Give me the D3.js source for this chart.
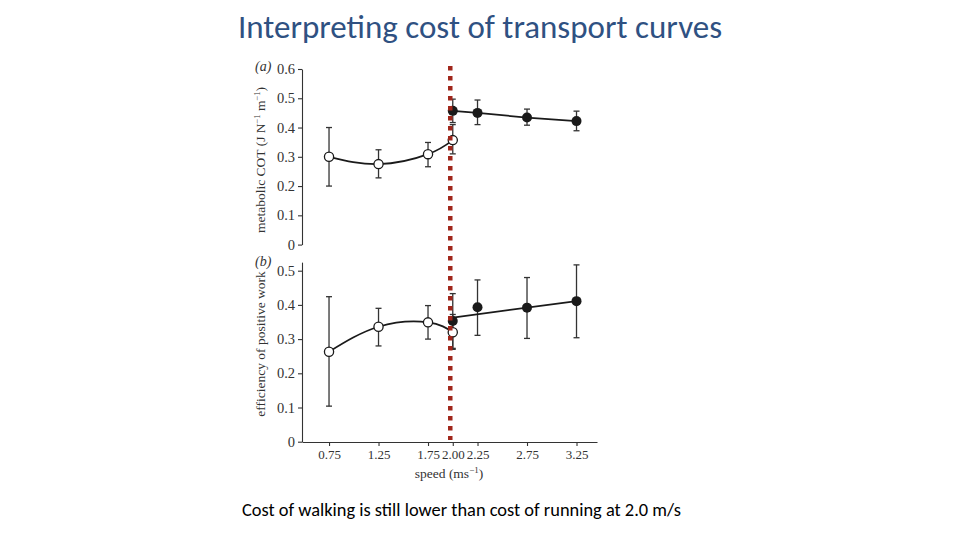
<!DOCTYPE html>
<html>
<head>
<meta charset="utf-8">
<script src="https://cdn.jsdelivr.net/npm/d3@7"></script>
<style>
  body { margin: 0; background: #fff; }
  svg { display: block; }
</style>
</head>
<body>
<script>
// speeds (m/s)
const walkSpeeds = [0.75, 1.25, 1.75, 2.00];
const runSpeeds = [2.00, 2.25, 2.75, 3.25];
const xTicks = [0.75, 1.25, 1.75, 2.00, 2.25, 2.75, 3.25];

// (a) metabolic COT
const walkCOT = [0.300, 0.275, 0.309, 0.357];
const walkCOTlo = [0.200, 0.228, 0.266, 0.310];
const walkCOThi = [0.400, 0.324, 0.349, 0.410];
const runCOT = [0.457, 0.450, 0.434, 0.422];
const runCOTlo = [0.417, 0.410, 0.408, 0.389];
const runCOThi = [0.497, 0.494, 0.463, 0.456];

// (b) efficiency of positive work
const walkEff = [0.263, 0.336, 0.349, 0.320];
const walkEfflo = [0.104, 0.280, 0.300, 0.270];
const walkEffhi = [0.424, 0.390, 0.398, 0.372];
const runEff = [0.353, 0.393, 0.392, 0.411];
const runEfflo = [0.273, 0.311, 0.302, 0.304];
const runEffhi = [0.433, 0.473, 0.480, 0.517];
const runEffFit = [[2.00, 0.363], [3.25, 0.411]];

const yTicksA = [0, 0.1, 0.2, 0.3, 0.4, 0.5, 0.6];
const yTicksB = [0, 0.1, 0.2, 0.3, 0.4, 0.5];
const threshold = 2.0;

const svg = d3.select("body").append("svg").attr("width", 960).attr("height", 540);
const serif = "'Liberation Serif', 'Times New Roman', serif";

svg.append("text").attr("x", 480).attr("y", 38).attr("text-anchor", "middle")
  .style("font-family", "Carlito, Lato, 'Open Sans', sans-serif").style("font-size", "33px")
  .attr("fill", "#2F5182").text("Interpreting cost of transport curves");

svg.append("text").attr("x", 242).attr("y", 516)
  .style("font-family", "Carlito, Lato, 'Open Sans', sans-serif").style("font-size", "18.4px")
  .attr("fill", "#000").text("Cost of walking is still lower than cost of running at 2.0 m/s");

const x = d3.scaleLinear().domain([0.477, 3.457]).range([302, 597]);
const yA = d3.scaleLinear().domain([0, 0.6]).range([244.6, 69]);
const yB = d3.scaleLinear().domain([0, 0.525]).range([441.7, 262.15]);
const fmt = d => d === 0 ? "0" : d3.format(".1f")(d);

function styleAxis(g, size) {
  g.selectAll("path, line").attr("stroke", "#333").attr("stroke-width", 1.1);
  g.selectAll("text").attr("fill", "#333").style("font-family", serif).style("font-size", size);
}

svg.append("g").attr("transform", "translate(302,0)")
  .call(d3.axisLeft(yA).tickValues(yTicksA).tickFormat(fmt).tickSize(4).tickSizeOuter(0).tickPadding(3))
  .call(styleAxis, "14.5px");
svg.append("g").attr("transform", "translate(302,0)")
  .call(d3.axisLeft(yB).tickValues(yTicksB).tickFormat(fmt).tickSize(4).tickSizeOuter(0).tickPadding(3))
  .call(styleAxis, "14.5px");
svg.append("g").attr("transform", "translate(0,442)")
  .call(d3.axisBottom(x).tickValues(xTicks).tickFormat(d3.format(".2f")).tickSize(4).tickSizeOuter(0).tickPadding(4))
  .call(styleAxis, "13px");

svg.append("text").attr("x", 255).attr("y", 71).style("font-family", serif).style("font-size", "14px")
  .style("font-style", "italic").attr("fill", "#333").text("(a)");
svg.append("text").attr("x", 255).attr("y", 266).style("font-family", serif).style("font-size", "14px")
  .style("font-style", "italic").attr("fill", "#333").text("(b)");

const la = svg.append("text").attr("transform", "translate(265,160) rotate(-90)").attr("text-anchor", "middle")
  .style("font-family", serif).style("font-size", "13.5px").attr("fill", "#333");
la.append("tspan").text("metabolic COT (J N");
la.append("tspan").attr("dy", -5).style("font-size", "8.5px").text("−1");
la.append("tspan").attr("dy", 5).text(" m");
la.append("tspan").attr("dy", -5).style("font-size", "8.5px").text("−1");
la.append("tspan").attr("dy", 5).text(")");

svg.append("text").attr("transform", "translate(265,344) rotate(-90)").attr("text-anchor", "middle")
  .style("font-family", serif).style("font-size", "13.5px").attr("fill", "#333").text("efficiency of positive work");

const lx = svg.append("text").attr("x", 449).attr("y", 478).attr("text-anchor", "middle")
  .style("font-family", serif).style("font-size", "13.5px").attr("fill", "#333");
lx.append("tspan").text("speed (ms");
lx.append("tspan").attr("dy", -5).style("font-size", "9px").text("−1");
lx.append("tspan").attr("dy", 5).text(")");

function panel(y, wv, wlo, whi, rv, rlo, rhi, runLinePts) {
  const walk = walkSpeeds.map((s, i) => ({s, v: wv[i], lo: wlo[i], hi: whi[i]}));
  const run = runSpeeds.map((s, i) => ({s, v: rv[i], lo: rlo[i], hi: rhi[i]}));
  const g = svg.append("g");
  const bars = walk.concat(run);
  g.selectAll(".eb").data(bars).join("line")
    .attr("x1", d => x(d.s)).attr("x2", d => x(d.s))
    .attr("y1", d => y(d.lo)).attr("y2", d => y(d.hi))
    .attr("stroke", "#333").attr("stroke-width", 1.3);
  g.selectAll(".caplo").data(bars).join("line")
    .attr("x1", d => x(d.s) - 3).attr("x2", d => x(d.s) + 3)
    .attr("y1", d => y(d.lo)).attr("y2", d => y(d.lo)).attr("stroke", "#333").attr("stroke-width", 1.3);
  g.selectAll(".caphi").data(bars).join("line")
    .attr("x1", d => x(d.s) - 3).attr("x2", d => x(d.s) + 3)
    .attr("y1", d => y(d.hi)).attr("y2", d => y(d.hi)).attr("stroke", "#333").attr("stroke-width", 1.3);
  g.append("path").datum(walk)
    .attr("d", d3.line().x(d => x(d.s)).y(d => y(d.v)).curve(d3.curveNatural))
    .attr("fill", "none").attr("stroke", "#1a1a1a").attr("stroke-width", 1.7);
  g.append("path").datum(runLinePts)
    .attr("d", d3.line().x(d => x(d[0])).y(d => y(d[1])))
    .attr("fill", "none").attr("stroke", "#1a1a1a").attr("stroke-width", 1.7);
  g.selectAll(".wc").data(walk).join("circle")
    .attr("cx", d => x(d.s)).attr("cy", d => y(d.v)).attr("r", 4.6)
    .attr("fill", "#fff").attr("stroke", "#1a1a1a").attr("stroke-width", 1.3);
  g.selectAll(".rc").data(run).join("circle")
    .attr("cx", d => x(d.s)).attr("cy", d => y(d.v)).attr("r", 5)
    .attr("fill", "#1a1a1a");
}

panel(yA, walkCOT, walkCOTlo, walkCOThi, runCOT, runCOTlo, runCOThi,
  runSpeeds.map((s, i) => [s, runCOT[i]]));
panel(yB, walkEff, walkEfflo, walkEffhi, runEff, runEfflo, runEffhi, runEffFit);

// walk/run transition marker
svg.append("line").attr("x1", x(threshold) - 2.5).attr("x2", x(threshold) - 2.5)
  .attr("y1", 66).attr("y2", 440)
  .attr("stroke", "#A0261B").attr("stroke-width", 4.5).attr("stroke-dasharray", "4.5,5.5");
</script>
</body>
</html>
